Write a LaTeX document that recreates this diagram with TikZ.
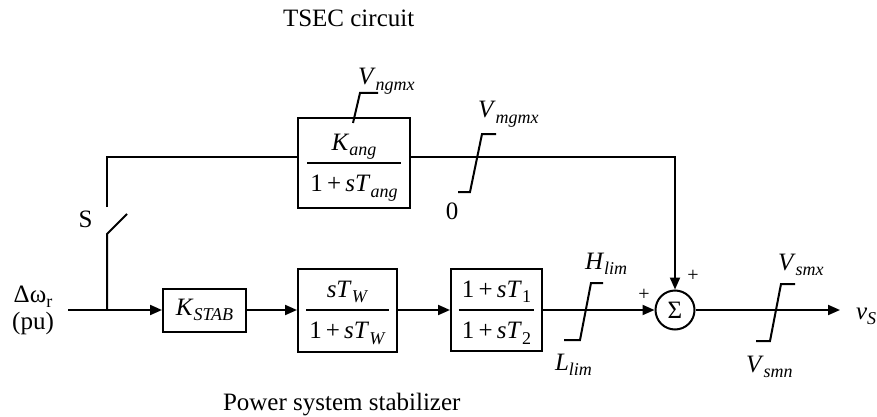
\documentclass[tikz,border=0pt]{standalone}
\usepackage{fontspec}
\setmainfont{Liberation Serif}
\usetikzlibrary{arrows.meta}
\newcommand{\sub}[1]{\raisebox{-0.45ex}{\fontsize{9}{9}\selectfont #1}}
\newcommand{\frc}[2]{\renewcommand{\arraystretch}{1.5}\begin{tabular}{@{\hspace{1.5pt}}c@{\hspace{1.5pt}}}#1\\\hline #2\end{tabular}}
\setlength{\arrayrulewidth}{0.6pt}
\tikzset{
  blk/.style={draw, line width=1pt, inner sep=0pt},
  lbl/.style={inner sep=0pt},
  pls/.style={inner sep=0pt, font=\fontsize{10}{10}\selectfont},
  lim/.style={line width=1pt}
}
\begin{document}
\begin{tikzpicture}[x=0.5pt,y=-0.5pt, line width=1pt, >={Triangle[length=6pt,width=5pt]},
  font=\fontsize{12.5}{13.5}\selectfont]
\useasboundingbox (0,0) rectangle (877,417);
% 标题
\node[lbl, anchor=base west] (tsec) at (282,27) {TSEC circuit};
\node[lbl, anchor=base west] (pss) at (222,410) {Power system stabilizer};

% 输入
\node[lbl, anchor=base] (dw) at (33,302) {Δω\sub{r}};
\node[lbl, anchor=base] (pu) at (33,329) {(pu)};
\coordinate (in) at (68,310);
\coordinate (br) at (107,310);

% 方框
\node[blk, minimum width=56pt, minimum height=45pt] (kang) at (354,163)
  {\frc{\textit{K}\sub{\textit{ang}}}{1\,+\,\textit{sT}\sub{\textit{ang}}}};
\node[blk, minimum width=41.5pt, minimum height=21.5pt] (kstab) at (204.5,310)
  {\textit{K}\sub{\textit{STAB}}};
\node[blk, minimum width=49.5pt, minimum height=41.5pt] (wash) at (347.5,310)
  {\frc{\textit{sT}\sub{\textit{W}}}{1\,+\,\textit{sT}\sub{\textit{W}}}};
\node[blk, minimum width=45.5pt, minimum height=40pt] (lead) at (496.5,310)
  {\frc{1\,+\,\textit{sT}\sub{1}}{1\,+\,\textit{sT}\sub{2}}};
\node[blk, circle, minimum size=19.5pt] (sum) at (675,310) {Σ};
\node[pls] (pl) at (644,295) {+};
\node[pls] (pt) at (693,276) {+};

% 开关
\coordinate (swlo) at (107,234);
\coordinate (swhi) at (127,214);
\coordinate (swtop) at (107,207);
\coordinate (tl) at (107,157);
\coordinate (tr) at (675,157);
\node[lbl, anchor=base] (s) at (85.5,227) {S};

% 输出
\coordinate (out) at (840,310);
\node[lbl, anchor=base west] (vs) at (855,319) {\textit{v}\sub{\textit{S}}};

% 限幅
\draw[lim] (353,123) -- (360,93) -- (378,93);
\node[lbl, anchor=base west] (vng) at (357,85) {\textit{V}\sub{\textit{ngmx}}};
\draw[lim] (458,192) -- (470,192) -- (482,134) -- (496,134);
\node[lbl, anchor=base west] (vmg) at (477,118) {\textit{V}\sub{\textit{mgmx}}};
\node[lbl, anchor=base] (zero) at (452,219) {0};
\draw[lim] (564,340) -- (580,340) -- (591,283) -- (603,283);
\node[lbl, anchor=base west] (hl) at (584,269) {\textit{H}\sub{\textit{lim}}};
\node[lbl, anchor=base west] (ll) at (554,370) {\textit{L}\sub{\textit{lim}}};
\draw[lim] (756,341) -- (770,341) -- (781,284) -- (795,284);
\node[lbl, anchor=base west] (vsx) at (777,270) {\textit{V}\sub{\textit{smx}}};
\node[lbl, anchor=base west] (vsn) at (745,372) {\textit{V}\sub{\textit{smn}}};

% ========== 连线 ==========
\draw (in)--(br);
\draw[->] (br)--(kstab);
\draw[->] (kstab)--(wash);
\draw[->] (wash)--(lead);
\draw[->] (lead)--(sum);
\draw[->] (sum)--(out);

\draw (br)--(swlo)--(swhi);
\draw (swtop)--(tl)--(tl -| kang.west);
\draw[->] (tl -| kang.east)--(tr)--(sum);
\end{tikzpicture}
\end{document}
